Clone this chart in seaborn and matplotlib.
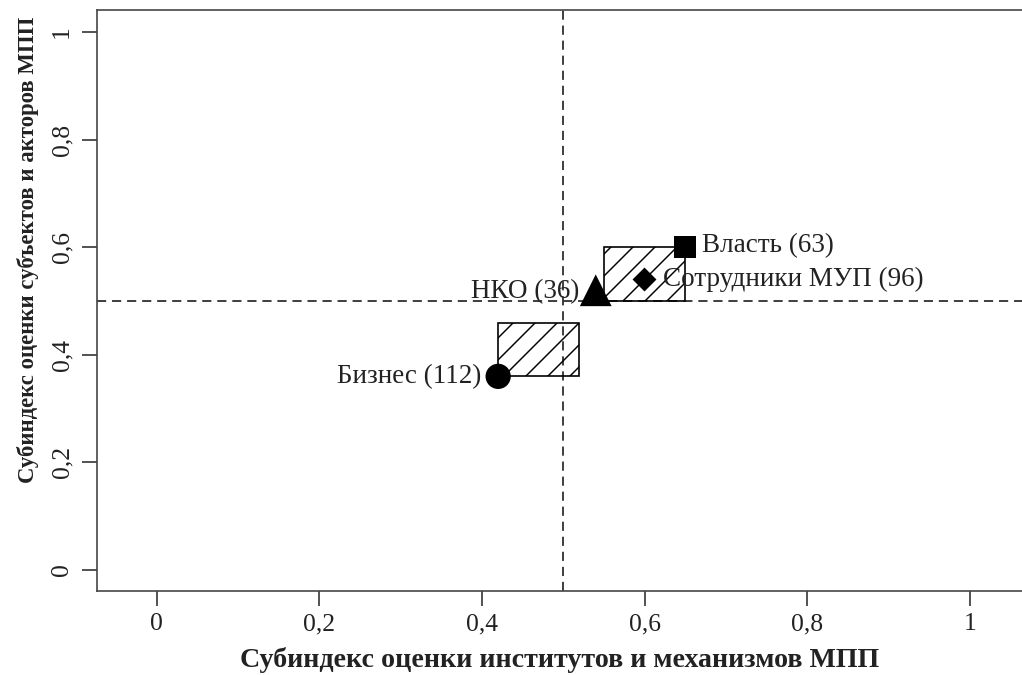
import pandas as pd
import matplotlib
matplotlib.use("Agg")
import matplotlib.pyplot as plt
from matplotlib.patches import Rectangle
import seaborn as sns

# данные: группы респондентов, координаты субиндексов
groups = ["Бизнес (112)", "НКО (36)", "Власть (63)", "Сотрудники МУП (96)"]
inst_idx = [0.42, 0.54, 0.65, 0.60]     # субиндекс институтов и механизмов
actor_idx = [0.36, 0.52, 0.60, 0.54]    # субиндекс субъектов и акторов

# заштрихованные прямоугольники
rect_x0 = [0.42, 0.55]
rect_x1 = [0.52, 0.65]
rect_y0 = [0.36, 0.50]
rect_y1 = [0.46, 0.60]

ticks = [0, 0.2, 0.4, 0.6, 0.8, 1]
tick_labels = ["0", "0,2", "0,4", "0,6", "0,8", "1"]

df = pd.DataFrame({"group": groups, "x": inst_idx, "y": actor_idx})

sns.set_style("ticks")
plt.rcParams["font.family"] = ["Liberation Serif", "DejaVu Serif"]
plt.rcParams["hatch.linewidth"] = 0.8

DPI = 132
fig = plt.figure(figsize=(1022 / DPI, 675 / DPI), dpi=DPI)
ax = fig.add_axes([97 / 1022, 84 / 675, 925 / 1022, 581 / 675])

# пунктирные линии на уровне 0.5
ax.axvline(0.5, color="#333333", lw=1.0, ls=(0, (5, 3.2)), zorder=1)
ax.axhline(0.5, color="#333333", lw=1.0, ls=(0, (5, 3.2)), zorder=1)

for x0, x1, y0, y1 in zip(rect_x0, rect_x1, rect_y0, rect_y1):
    ax.add_patch(Rectangle((x0, y0), x1 - x0, y1 - y0, facecolor="none",
                           edgecolor="black", hatch="//", lw=0.9, zorder=2))

markers = {"Бизнес (112)": "o", "НКО (36)": "^",
           "Власть (63)": "s", "Сотрудники МУП (96)": "D"}
sizes = {"Бизнес (112)": 190, "НКО (36)": 300,
         "Власть (63)": 150, "Сотрудники МУП (96)": 85}

sns.scatterplot(data=df, x="x", y="y", style="group", markers=markers,
                size="group", sizes=sizes, color="black", edgecolor="black",
                linewidth=0, legend=False, ax=ax, zorder=3)

# подписи точек
offsets = {"Бизнес (112)": (-9, 0, "right"), "НКО (36)": (-9, -1, "right"),
           "Власть (63)": (9, 1, "left"), "Сотрудники МУП (96)": (10, 0, "left")}
for g, x, y in zip(groups, inst_idx, actor_idx):
    dx, dy, ha = offsets[g]
    ax.annotate(g, (x, y), xytext=(dx, dy), textcoords="offset points",
                ha=ha, va="center", fontsize=14.8, color="#222222", zorder=4)

ax.set_xlim(-0.0734, 1.0643)
ax.set_ylim(-0.039, 1.041)
ax.set_xticks(ticks)
ax.set_xticklabels(tick_labels)
ax.set_yticks(ticks)
ax.set_yticklabels(tick_labels, rotation=90, va="center")
ax.tick_params(axis="both", direction="out", length=8, width=0.9,
               colors="#333333", labelsize=14, labelcolor="#222222")
ax.tick_params(axis="x", pad=4)
ax.tick_params(axis="y", pad=5)

for side in ["left", "bottom", "top"]:
    ax.spines[side].set_linewidth(0.9)
    ax.spines[side].set_color("#444444")
ax.spines["right"].set_visible(False)

ax.set_xlabel("Субиндекс оценки институтов и механизмов МПП",
              fontsize=15.3, fontweight="bold", color="#222222")
ax.set_ylabel("Субиндекс оценки субъектов и акторов МПП",
              fontsize=12.4, fontweight="bold", color="#222222")
ax.xaxis.label.set_va("center")
ax.yaxis.label.set_va("center")
ax.xaxis.set_label_coords(0.5, -0.119)
ax.yaxis.set_label_coords(-0.0746, 0.587)

fig.savefig("out.png", dpi=DPI)
